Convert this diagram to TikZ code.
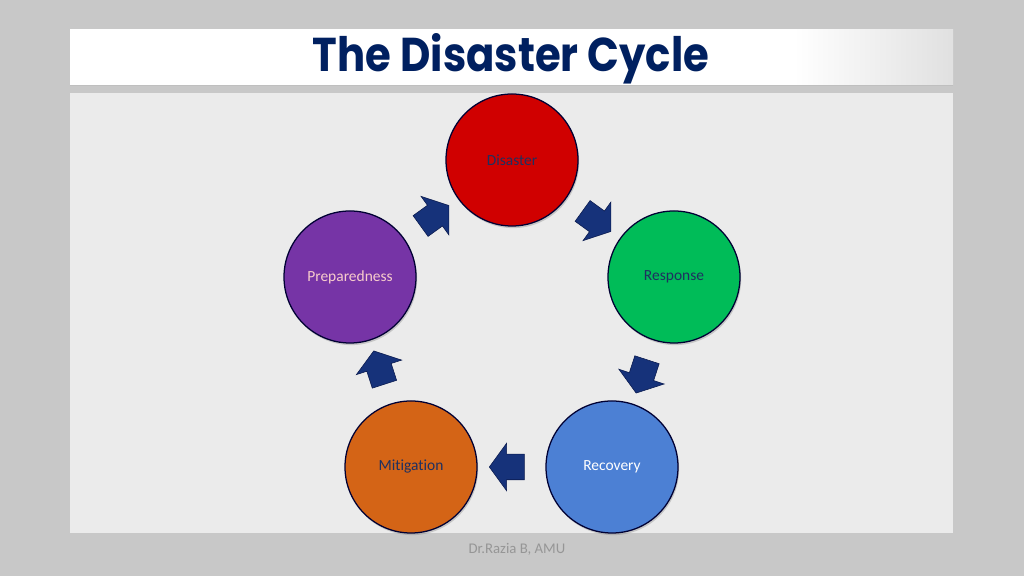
\documentclass[tikz,border=0pt]{standalone}
\usepackage{fontspec}
\setmainfont[Ligatures=NoCommon]{Carlito}
\newfontfamily\titlefont{Poppins}
\usetikzlibrary{calc,shapes.arrows,shadows}

\definecolor{slidegray}{RGB}{200,200,200}
\definecolor{panelgray}{RGB}{235,235,235}
\definecolor{titlenavy}{RGB}{0,32,96}
\definecolor{arrownavy}{RGB}{22,50,122}
\definecolor{arrowedge}{RGB}{10,26,78}
\definecolor{disred}{RGB}{208,0,0}
\definecolor{respgreen}{RGB}{0,188,88}
\definecolor{recblue}{RGB}{76,128,212}
\definecolor{mitorange}{RGB}{212,100,22}
\definecolor{preppurple}{RGB}{118,52,166}
\definecolor{labelnavy}{RGB}{31,48,96}
\definecolor{preptext}{RGB}{248,204,204}
\definecolor{footgray}{RGB}{150,150,150}

\pgfdeclarehorizontalshading{titleband}{100bp}{color(0bp)=(white); color(66bp)=(white); color(75bp)=(black!12); color(100bp)=(black!12)}

\begin{document}
\begin{tikzpicture}[x=0.025cm,y=0.025cm,
  stage/.style={circle,minimum size=3.3cm,inner sep=0pt,draw=black!80!blue,line width=0.9pt,
    drop shadow={opacity=0.35,shadow xshift=0.8pt,shadow yshift=-1.5pt},
    font=\fontsize{11}{13}\selectfont},
  cyclearrow/.style={single arrow,draw=arrowedge,fill=arrownavy,inner xsep=0pt,inner ysep=0.3125cm,
    minimum height=0.875cm,single arrow head extend=0.275cm,single arrow tip angle=108}]
\useasboundingbox (0,0) rectangle (1024,576);
\fill[slidegray] (0,0) rectangle (1024,576);
% title band and panel
\shade[shading=titleband] (70,491) rectangle (953,546);
\draw[black!25] (70,491) -- (953,491);
\fill[panelgray] (70,43) rectangle (953,483);
\node[text=titlenavy] (title) at (511,517) {\resizebox{9.9cm}{0.95cm}{\titlefont\bfseries The Disaster Cycle}};

\node[stage,fill=disred,text=labelnavy] (dis) at (512,416) {Disaster};
\node[stage,fill=respgreen,text=labelnavy] (resp) at (674,299) {Response};
\node[stage,fill=recblue,text=white] (rec) at (612,109) {Recovery};
\node[stage,fill=mitorange,text=labelnavy] (mit) at (411,109) {Mitigation};
\node[stage,fill=preppurple,text=preptext] (prep) at (350,299) {Preparedness};

\foreach \a/\b in {prep/dis,dis/resp,resp/rec,rec/mit,mit/prep}
  \path let \p1=($(\b)-(\a)$), \n1={atan2(\y1,\x1)} in
    node[cyclearrow,rotate=\n1] (\a-\b) at ($(\a)!0.5!(\b)$) {};

\node[text=footgray,font=\fontsize{10.5}{12}\selectfont] (foot) at (517,27) {Dr.Razia B, AMU};
\end{tikzpicture}
\end{document}
